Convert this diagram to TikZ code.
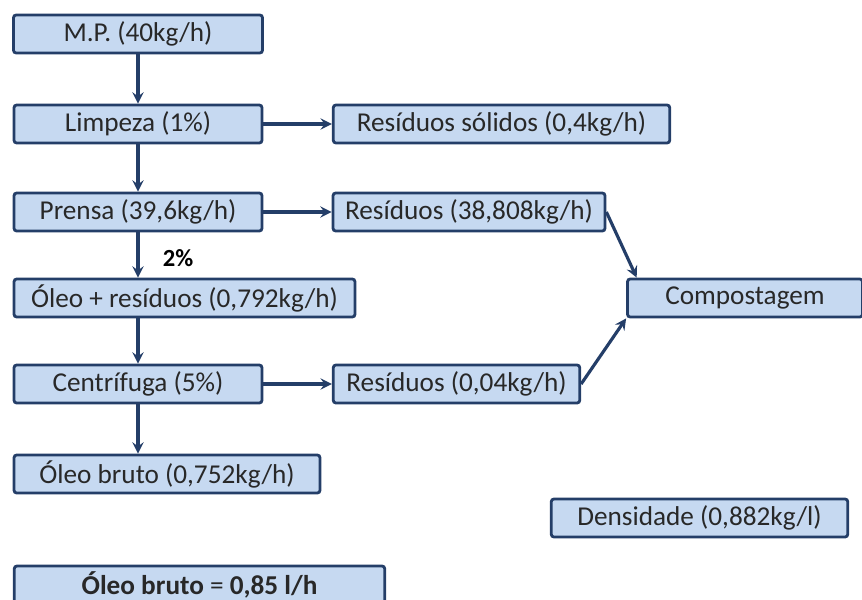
\documentclass[tikz,border=0pt]{standalone}
\usepackage{fontspec}
\setmainfont{Carlito}
\usepackage{tikz}
\definecolor{boxfill}{RGB}{198,217,241}
\definecolor{boxline}{RGB}{36,62,104}
\definecolor{boxtext}{RGB}{40,40,40}
\tikzstyle{etapa}=[rectangle,rounded corners=1.5pt,draw=boxline,line width=1.6pt,fill=boxfill,text=boxtext,minimum height=0.76cm,inner sep=0pt,font=\fontsize{15.5}{18}\selectfont]
\tikzstyle{seta}=[->, >=stealth, line width=1.8pt, draw=boxline]

\begin{document}
\begin{tikzpicture}[x=0.02cm,y=-0.02cm]
\useasboundingbox (0,0) rectangle (862,599);
\clip (0,0) rectangle (862,599);

\node (mp) at (138,34) [etapa, minimum width=4.98cm]       {M.P. (40kg/h)};
\node (limp) at (138,124) [etapa, minimum width=4.96cm]    {Limpeza (1\%)};
\node (rsol) at (501.5,124) [etapa, minimum width=6.73cm]  {Resíduos sólidos (0,4kg/h)};
\node (prensa) at (138,212) [etapa, minimum width=4.96cm]  {Prensa (39,6kg/h)};
\node (r38) at (469,212) [etapa, minimum width=5.44cm]     {Resíduos (38,808kg/h)};
\node (oleores) at (184.5,298) [etapa, minimum width=6.82cm] {Óleo + resíduos (0,792kg/h)};
\node (comp) at (745,298) [etapa, minimum width=4.7cm]     {Compostagem};
\node (centr) at (138,384) [etapa, minimum width=4.96cm]   {Centrífuga (5\%)};
\node (r004) at (456.5,384) [etapa, minimum width=4.93cm]  {Resíduos (0,04kg/h)};
\node (bruto) at (167,474) [etapa, minimum width=6.12cm]   {Óleo bruto (0,752kg/h)};
\node (dens) at (699.5,518) [etapa, minimum width=5.93cm]  {Densidade (0,882kg/l)};
\node (final) at (199.5,585) [etapa, minimum width=7.41cm] {\textbf{Óleo bruto} = \textbf{0,85 l/h}};

\node (pct) at (178,258) [font=\fontsize{14}{16}\selectfont\bfseries] {2\%};

\draw[seta] (mp) -- (limp);
\draw[seta] (limp) -- (prensa);
\draw[seta] (prensa) -- (oleores.north -| prensa);
\draw[seta] (oleores.south -| centr) -- (centr);
\draw[seta] (centr) -- (bruto.north -| centr);

\draw[seta] (limp) -- (rsol);
\draw[seta] (prensa) -- (r38);
\draw[seta] (centr) -- (r004);

\draw[seta] (r38.east) -- ([xshift=6]comp.north west);
\draw[seta] (r004.east) -- (comp.south west);
\end{tikzpicture}
\end{document}
